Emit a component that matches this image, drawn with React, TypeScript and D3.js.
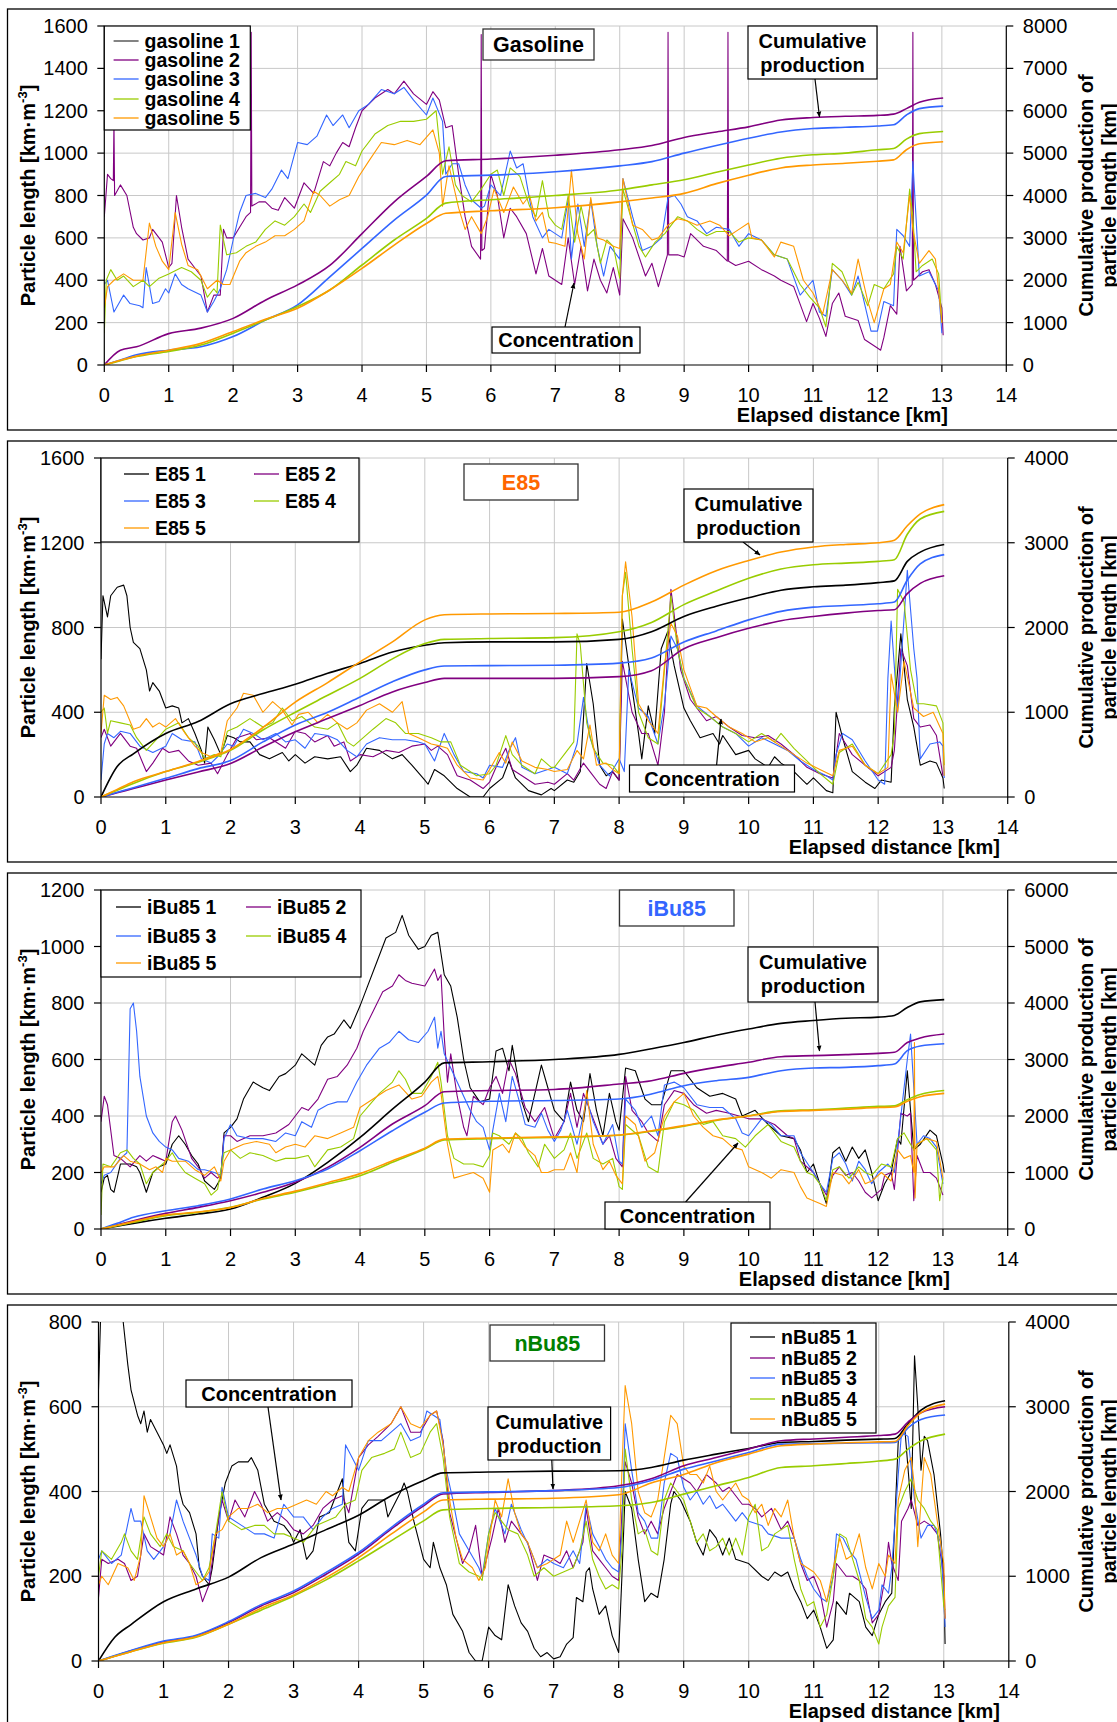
import React from 'react';
import * as d3 from 'd3';

const COLORS = ['#000000', '#800080', '#3366FF', '#99CC00', '#FF9900'];
const FONT = '"Liberation Sans", Arial, sans-serif';

// distance grid for the cumulative curves [km]
const cumDist = [0, 0.25, 0.5, 1, 1.5, 2, 2.5, 3, 3.5, 4, 4.5, 5, 5.3, 6, 7, 8, 8.5, 9, 9.5, 10, 10.5, 11, 11.5, 12, 12.25, 12.45, 12.65, 13.02];

// ---------------- Gasoline ----------------
const gasNames = ['gasoline 1', 'gasoline 2', 'gasoline 3', 'gasoline 4', 'gasoline 5'];
const gasConc2 = [0,700, 0.05,900, 0.1,880, 0.14,870, 0.15,1150, 0.16,800, 0.25,850, 0.35,800, 0.45,650, 0.5,620, 0.6,590, 0.7,600, 0.75,640, 0.9,580, 1.0,460, 1.05,480, 1.12,800, 1.2,650, 1.3,500, 1.4,460, 1.5,420, 1.6,250, 1.7,330, 1.8,330, 1.85,640, 1.9,600, 2.0,600, 2.1,650, 2.2,700, 2.27,720, 2.28,1570, 2.29,750, 2.4,770, 2.5,770, 2.6,740, 2.7,730, 2.8,790, 2.95,740, 3.1,860, 3.25,810, 3.4,960, 3.5,940, 3.6,1000, 3.7,1050, 3.8,1030, 3.9,1120, 4.0,1200, 4.2,1260, 4.4,1300, 4.5,1280, 4.65,1340, 4.8,1280, 5.0,1230, 5.1,1290, 5.2,1250, 5.3,1120, 5.4,1130, 5.5,900, 5.6,700, 5.7,560, 5.84,500, 5.85,1560, 5.86,540, 5.9,550, 6.0,900, 6.1,800, 6.2,600, 6.3,740, 6.4,700, 6.55,620, 6.7,430, 6.8,550, 6.9,420, 7.0,400, 7.1,380, 7.2,600, 7.3,380, 7.4,560, 7.5,350, 7.6,500, 7.7,400, 7.8,340, 7.9,460, 8.0,330, 8.05,690, 8.2,600, 8.4,420, 8.5,480, 8.6,370, 8.74,520, 8.75,1570, 8.76,520, 8.9,520, 9.0,510, 9.1,620, 9.3,560, 9.5,540, 9.67,490, 9.68,1570, 9.69,490, 9.8,470, 10.0,490, 10.2,450, 10.4,420, 10.5,400, 10.7,370, 10.9,205, 11.0,290, 11.1,220, 11.2,135, 11.3,290, 11.4,340, 11.5,230, 11.7,210, 11.8,120, 11.9,100, 12.0,80, 12.05,70, 12.1,130, 12.2,280, 12.3,240, 12.35,560, 12.45,350, 12.54,380, 12.55,1570, 12.56,400, 12.7,440, 12.8,450, 12.9,380, 13.0,270, 13.02,140];
const gasConc3 = [0,380, 0.05,400, 0.15,250, 0.3,330, 0.4,290, 0.55,280, 0.6,270, 0.65,460, 0.75,290, 0.85,300, 0.95,360, 1.0,340, 1.1,430, 1.2,380, 1.3,360, 1.5,330, 1.6,250, 1.7,300, 1.8,360, 1.9,450, 2.0,590, 2.1,720, 2.2,800, 2.35,810, 2.5,790, 2.6,830, 2.75,920, 2.85,880, 3.0,1050, 3.15,1040, 3.3,1080, 3.45,1180, 3.55,1130, 3.7,1180, 3.8,1120, 3.95,1200, 4.1,1230, 4.3,1300, 4.5,1280, 4.65,1310, 4.8,1250, 5.0,1180, 5.1,1260, 5.25,1150, 5.3,900, 5.4,950, 5.5,950, 5.6,850, 5.7,780, 5.85,740, 5.9,750, 6.0,850, 6.15,800, 6.3,1010, 6.4,930, 6.5,950, 6.65,700, 6.8,600, 6.9,640, 7.0,620, 7.1,600, 7.2,780, 7.25,500, 7.35,760, 7.45,560, 7.55,780, 7.65,560, 7.75,420, 7.85,560, 7.95,520, 8.0,500, 8.05,880, 8.2,700, 8.35,540, 8.5,560, 8.65,600, 8.75,790, 8.85,800, 8.95,760, 9.05,700, 9.2,680, 9.35,620, 9.5,650, 9.7,640, 9.85,560, 10.0,620, 10.2,590, 10.4,520, 10.6,500, 10.8,330, 11.0,400, 11.1,250, 11.2,230, 11.3,450, 11.45,400, 11.6,330, 11.7,420, 11.9,160, 12.0,160, 12.1,300, 12.25,280, 12.3,640, 12.4,610, 12.5,560, 12.55,960, 12.65,420, 12.8,440, 12.95,350, 13.0,150];
const gasConc4 = [0,150, 0.03,400, 0.1,450, 0.2,400, 0.3,420, 0.45,370, 0.6,400, 0.7,370, 0.85,410, 1.0,430, 1.2,460, 1.35,440, 1.5,400, 1.6,320, 1.7,360, 1.75,340, 1.8,660, 1.9,520, 2.05,530, 2.2,560, 2.35,580, 2.5,640, 2.65,680, 2.8,660, 2.95,700, 3.1,760, 3.2,720, 3.35,820, 3.5,860, 3.65,900, 3.75,960, 3.9,940, 4.0,1010, 4.2,1090, 4.4,1130, 4.6,1150, 4.8,1150, 5.0,1160, 5.15,1200, 5.25,900, 5.35,1030, 5.45,850, 5.55,800, 5.7,770, 5.85,830, 6.0,900, 6.1,920, 6.2,800, 6.3,930, 6.45,890, 6.6,750, 6.7,700, 6.8,870, 6.9,700, 7.0,660, 7.1,640, 7.2,800, 7.3,580, 7.4,750, 7.5,610, 7.6,640, 7.7,480, 7.8,590, 7.9,560, 8.0,410, 8.05,830, 8.15,720, 8.3,560, 8.4,510, 8.55,580, 8.7,620, 8.9,700, 9.05,680, 9.2,640, 9.35,610, 9.5,630, 9.7,630, 9.85,580, 10.0,600, 10.2,590, 10.4,520, 10.6,500, 10.8,380, 10.95,320, 11.1,270, 11.2,180, 11.3,480, 11.45,440, 11.6,330, 11.7,390, 11.85,280, 11.95,380, 12.1,360, 12.25,430, 12.3,560, 12.4,500, 12.5,830, 12.55,700, 12.6,440, 12.7,470, 12.85,500, 12.95,430, 13.0,200];
const gasConc5 = [0,270, 0.05,370, 0.15,400, 0.3,430, 0.45,400, 0.6,400, 0.7,670, 0.8,560, 0.9,490, 1.0,450, 1.1,720, 1.2,570, 1.3,470, 1.45,450, 1.6,360, 1.75,400, 1.85,380, 1.95,380, 2.1,490, 2.2,530, 2.35,560, 2.5,580, 2.65,610, 2.8,610, 2.95,640, 3.1,680, 3.25,820, 3.35,800, 3.5,750, 3.65,780, 3.8,800, 3.95,890, 4.1,960, 4.3,1050, 4.5,1040, 4.7,1060, 4.9,1040, 5.1,1110, 5.2,1000, 5.25,750, 5.35,940, 5.5,740, 5.6,640, 5.7,700, 5.85,620, 5.95,700, 6.05,830, 6.2,720, 6.35,840, 6.5,760, 6.6,800, 6.7,680, 6.8,720, 6.9,580, 7.0,575, 7.15,560, 7.25,920, 7.35,620, 7.45,500, 7.55,790, 7.65,600, 7.75,590, 7.9,560, 8.0,550, 8.05,880, 8.2,660, 8.35,640, 8.5,590, 8.6,600, 8.75,660, 8.9,690, 9.05,680, 9.2,660, 9.4,680, 9.55,660, 9.7,610, 9.85,640, 10.0,670, 10.05,600, 10.2,590, 10.4,510, 10.5,580, 10.7,560, 10.85,400, 11.0,340, 11.15,240, 11.3,450, 11.45,400, 11.6,340, 11.7,500, 11.85,300, 11.95,200, 12.1,360, 12.2,380, 12.3,580, 12.4,530, 12.5,800, 12.55,640, 12.65,480, 12.8,540, 12.9,500, 13.0,200];
const gasCum2 = [0, 350, 430, 740, 870, 1100, 1530, 1890, 2350, 3100, 3850, 4450, 4820, 4860, 4950, 5080, 5180, 5370, 5500, 5620, 5780, 5840, 5870, 5890, 5920, 6050, 6200, 6300];
const gasCum3 = [0, 120, 240, 350, 430, 670, 1060, 1420, 2080, 2750, 3420, 4010, 4450, 4480, 4560, 4700, 4800, 5000, 5180, 5350, 5500, 5580, 5610, 5640, 5670, 5900, 6050, 6110];
const gasCum4 = [0, 100, 200, 320, 470, 750, 1060, 1380, 1770, 2360, 2950, 3460, 3820, 3900, 4000, 4130, 4250, 4370, 4550, 4720, 4880, 4960, 5000, 5080, 5110, 5330, 5460, 5510];
const gasCum5 = [0, 110, 210, 350, 510, 790, 1080, 1340, 1770, 2280, 2830, 3340, 3580, 3640, 3710, 3850, 3940, 4050, 4280, 4480, 4650, 4720, 4760, 4810, 4840, 5080, 5220, 5270];

// ---------------- E85 ----------------
const e85Names = ['E85 1', 'E85 2', 'E85 3', 'E85 4', 'E85 5'];
const e85Conc1 = [0,650, 0.03,950, 0.1,850, 0.15,950, 0.25,990, 0.35,1000, 0.4,950, 0.45,800, 0.5,730, 0.6,700, 0.7,600, 0.75,500, 0.8,540, 0.9,500, 1.0,420, 1.1,430, 1.2,420, 1.25,350, 1.35,370, 1.45,300, 1.55,220, 1.6,160, 1.65,330, 1.75,270, 1.85,200, 1.95,290, 2.05,280, 2.15,260, 2.3,260, 2.45,200, 2.6,180, 2.8,210, 2.9,170, 3.0,200, 3.15,160, 3.3,190, 3.5,180, 3.7,190, 3.85,120, 3.95,150, 4.1,230, 4.3,220, 4.5,180, 4.65,200, 4.8,150, 5.0,80, 5.05,60, 5.15,130, 5.3,100, 5.5,40, 5.7,0, 5.9,0, 6.0,40, 6.2,90, 6.3,170, 6.4,90, 6.6,30, 6.8,10, 6.95,40, 7.0,30, 7.2,80, 7.3,70, 7.4,120, 7.5,630, 7.6,440, 7.7,150, 7.8,100, 7.9,120, 8.0,80, 8.05,840, 8.15,620, 8.3,300, 8.35,180, 8.45,430, 8.55,300, 8.65,700, 8.75,780, 8.85,620, 9.0,420, 9.1,360, 9.25,280, 9.45,300, 9.55,250, 9.6,290, 9.8,200, 10.0,220, 10.1,180, 10.3,140, 10.4,190, 10.5,160, 10.7,120, 10.9,60, 11.0,90, 11.2,30, 11.3,20, 11.35,400, 11.45,280, 11.6,120, 11.8,70, 11.95,40, 12.05,80, 12.2,70, 12.25,420, 12.35,770, 12.45,460, 12.55,330, 12.65,150, 12.8,170, 12.9,160, 13.0,90, 13.02,40];
const e85Conc2 = [0,280, 0.05,320, 0.15,240, 0.3,300, 0.45,240, 0.55,230, 0.7,120, 0.8,160, 0.95,230, 1.05,210, 1.2,220, 1.35,170, 1.5,150, 1.7,160, 1.8,110, 1.95,200, 2.1,280, 2.3,300, 2.4,270, 2.6,280, 2.85,230, 3.0,310, 3.15,300, 3.3,260, 3.5,290, 3.6,240, 3.75,260, 3.85,170, 4.0,200, 4.2,190, 4.4,220, 4.6,210, 4.8,240, 5.0,250, 5.1,220, 5.2,240, 5.35,200, 5.5,100, 5.7,80, 5.9,40, 6.0,70, 6.1,140, 6.25,230, 6.35,130, 6.5,100, 6.7,60, 6.9,70, 7.0,60, 7.2,110, 7.3,80, 7.45,160, 7.55,120, 7.7,60, 7.8,40, 7.9,120, 8.0,80, 8.05,640, 8.2,400, 8.35,300, 8.45,300, 8.6,150, 8.7,400, 8.8,980, 8.85,860, 8.95,600, 9.1,460, 9.2,420, 9.35,360, 9.5,380, 9.7,330, 9.9,290, 10.1,280, 10.3,290, 10.5,250, 10.7,200, 10.9,140, 11.1,110, 11.3,90, 11.4,300, 11.6,200, 11.8,150, 12.0,100, 12.2,140, 12.25,220, 12.35,700, 12.45,620, 12.55,370, 12.65,330, 12.8,340, 12.9,290, 13.0,100];
const e85Conc3 = [0,80, 0.05,250, 0.1,300, 0.2,280, 0.3,310, 0.45,300, 0.6,240, 0.8,210, 1.0,240, 1.1,300, 1.25,270, 1.45,260, 1.55,180, 1.7,160, 1.8,190, 1.95,250, 2.05,240, 2.2,320, 2.35,300, 2.5,270, 2.7,300, 2.85,260, 3.0,270, 3.15,230, 3.3,300, 3.5,290, 3.65,270, 3.8,220, 3.95,190, 4.1,250, 4.3,280, 4.5,270, 4.7,270, 4.9,260, 5.0,250, 5.15,170, 5.3,300, 5.45,200, 5.6,120, 5.8,110, 5.9,90, 6.0,150, 6.2,140, 6.3,220, 6.4,280, 6.5,140, 6.7,110, 6.9,130, 7.0,140, 7.2,110, 7.35,250, 7.45,470, 7.55,280, 7.7,150, 7.85,100, 8.0,180, 8.08,120, 8.15,600, 8.3,420, 8.45,380, 8.6,250, 8.7,440, 8.8,760, 8.9,700, 9.0,560, 9.2,430, 9.4,380, 9.6,330, 9.8,300, 10.0,240, 10.2,280, 10.4,250, 10.6,220, 10.8,170, 11.0,130, 11.2,100, 11.3,80, 11.35,200, 11.45,300, 11.6,270, 11.8,170, 12.0,80, 12.1,60, 12.15,560, 12.2,830, 12.3,400, 12.45,1070, 12.55,700, 12.6,560, 12.65,180, 12.8,250, 12.95,260, 13.0,240, 13.02,90];
const e85Conc4 = [0,400, 0.05,420, 0.1,300, 0.15,360, 0.3,350, 0.45,340, 0.55,280, 0.7,220, 0.85,270, 1.0,320, 1.2,350, 1.35,280, 1.5,240, 1.6,180, 1.75,200, 1.85,190, 1.95,310, 2.1,330, 2.3,370, 2.5,330, 2.65,350, 2.8,420, 2.95,360, 3.1,380, 3.3,330, 3.5,320, 3.65,350, 3.8,260, 3.9,240, 4.05,280, 4.2,320, 4.4,370, 4.55,350, 4.7,300, 4.9,300, 5.1,280, 5.25,260, 5.4,260, 5.55,150, 5.8,100, 6.0,110, 6.1,150, 6.25,290, 6.35,200, 6.5,150, 6.7,110, 6.8,180, 6.95,140, 7.0,140, 7.15,200, 7.3,260, 7.35,770, 7.4,720, 7.5,350, 7.6,230, 7.75,160, 7.9,150, 8.0,110, 8.05,950, 8.1,1060, 8.2,700, 8.3,400, 8.45,280, 8.6,250, 8.7,600, 8.8,950, 8.9,700, 9.0,560, 9.2,420, 9.4,380, 9.6,330, 9.8,300, 10.0,260, 10.2,300, 10.4,260, 10.5,300, 10.7,230, 10.9,170, 11.1,110, 11.3,60, 11.4,210, 11.6,250, 11.8,150, 12.0,110, 12.2,200, 12.25,300, 12.3,980, 12.4,920, 12.5,600, 12.6,440, 12.7,440, 12.9,430, 13.0,350, 13.02,150];
const e85Conc5 = [0,300, 0.05,480, 0.15,460, 0.25,470, 0.35,430, 0.5,320, 0.6,330, 0.7,370, 0.8,330, 0.9,350, 1.0,330, 1.15,370, 1.3,300, 1.45,240, 1.55,210, 1.7,190, 1.85,210, 1.95,360, 2.1,420, 2.2,490, 2.35,480, 2.5,400, 2.65,450, 2.8,410, 2.95,340, 3.05,390, 3.2,400, 3.35,350, 3.5,390, 3.65,350, 3.8,320, 3.95,350, 4.1,410, 4.3,440, 4.5,400, 4.65,450, 4.75,300, 4.9,280, 5.1,250, 5.25,240, 5.35,230, 5.5,150, 5.7,90, 5.9,80, 6.0,130, 6.15,210, 6.25,160, 6.35,260, 6.5,170, 6.7,140, 6.9,130, 7.0,120, 7.2,130, 7.35,220, 7.45,180, 7.55,340, 7.65,150, 7.8,160, 7.9,130, 8.0,110, 8.05,950, 8.1,1110, 8.2,850, 8.3,440, 8.45,360, 8.6,300, 8.7,620, 8.8,820, 8.9,760, 9.0,600, 9.2,430, 9.35,420, 9.5,380, 9.7,330, 9.9,300, 10.1,260, 10.3,280, 10.5,240, 10.7,200, 10.9,160, 11.1,130, 11.3,100, 11.4,220, 11.6,240, 11.8,150, 12.0,110, 12.15,140, 12.2,580, 12.3,400, 12.4,640, 12.55,420, 12.7,380, 12.85,400, 13.0,300, 13.02,100];
const e85Cum1 = [0, 360, 510, 750, 890, 1100, 1220, 1330, 1460, 1575, 1710, 1790, 1820, 1830, 1830, 1860, 1950, 2130, 2250, 2350, 2440, 2480, 2500, 2530, 2550, 2780, 2890, 2980];
const e85Cum2 = [0, 50, 100, 200, 295, 395, 590, 770, 925, 1080, 1240, 1350, 1400, 1400, 1400, 1420, 1490, 1750, 1880, 1990, 2080, 2130, 2170, 2200, 2210, 2400, 2520, 2610];
const e85Cum3 = [0, 55, 110, 220, 335, 430, 650, 850, 1000, 1180, 1360, 1500, 1545, 1550, 1555, 1580, 1640, 1830, 1960, 2090, 2190, 2240, 2260, 2280, 2300, 2560, 2750, 2860];
const e85Cum4 = [0, 80, 160, 300, 410, 550, 790, 1000, 1200, 1400, 1630, 1810, 1860, 1870, 1880, 1950, 2060, 2270, 2430, 2580, 2690, 2740, 2760, 2780, 2800, 3100, 3280, 3370];
const e85Cum5 = [0, 90, 180, 300, 420, 560, 820, 1120, 1350, 1595, 1830, 2090, 2150, 2160, 2165, 2180, 2300, 2500, 2670, 2790, 2890, 2950, 2980, 3000, 3030, 3200, 3340, 3450];

// ---------------- iBu85 ----------------
const ibuNames = ['iBu85 1', 'iBu85 2', 'iBu85 3', 'iBu85 4', 'iBu85 5'];
const ibuConc1 = [0,130, 0.05,180, 0.1,190, 0.15,140, 0.2,130, 0.3,230, 0.45,230, 0.55,220, 0.6,200, 0.7,130, 0.8,200, 0.9,220, 1.0,230, 1.1,300, 1.2,330, 1.3,300, 1.4,260, 1.5,230, 1.6,170, 1.7,150, 1.75,140, 1.85,180, 1.9,340, 2.0,360, 2.1,390, 2.2,460, 2.35,520, 2.5,500, 2.6,490, 2.75,540, 2.85,550, 3.0,580, 3.1,620, 3.3,580, 3.4,650, 3.5,680, 3.6,690, 3.75,740, 3.85,710, 4.0,790, 4.1,850, 4.25,940, 4.4,1030, 4.55,1050, 4.65,1110, 4.75,1040, 4.9,990, 5.0,1000, 5.1,1040, 5.2,1050, 5.3,900, 5.4,860, 5.5,750, 5.6,600, 5.7,500, 5.85,450, 6.0,460, 6.1,630, 6.2,640, 6.3,560, 6.35,650, 6.5,450, 6.6,380, 6.8,580, 6.9,500, 7.0,420, 7.15,380, 7.25,520, 7.35,420, 7.45,380, 7.55,550, 7.65,420, 7.75,330, 7.85,480, 7.95,380, 8.0,350, 8.1,570, 8.25,560, 8.4,460, 8.5,440, 8.65,440, 8.8,560, 9.0,560, 9.2,500, 9.4,470, 9.6,480, 9.8,460, 9.9,400, 10.1,420, 10.3,370, 10.5,330, 10.7,320, 10.8,280, 10.9,200, 11.0,230, 11.1,160, 11.2,90, 11.3,270, 11.4,290, 11.5,240, 11.6,290, 11.7,250, 11.8,280, 11.9,200, 12.0,100, 12.1,160, 12.2,200, 12.3,320, 12.35,300, 12.45,560, 12.55,280, 12.65,300, 12.8,350, 12.9,330, 13.0,230, 13.02,200];
const ibuConc2 = [0,380, 0.05,470, 0.1,440, 0.2,260, 0.3,250, 0.45,220, 0.6,260, 0.7,240, 0.8,260, 0.9,250, 1.0,240, 1.1,380, 1.15,400, 1.25,350, 1.4,250, 1.5,220, 1.6,180, 1.7,200, 1.8,180, 1.85,190, 1.9,330, 2.0,330, 2.1,310, 2.3,330, 2.5,330, 2.7,340, 2.9,370, 3.1,430, 3.2,420, 3.35,460, 3.5,530, 3.65,540, 3.8,580, 3.95,640, 4.05,700, 4.2,770, 4.35,840, 4.5,860, 4.6,900, 4.7,880, 4.8,870, 5.0,860, 5.15,920, 5.2,880, 5.25,900, 5.3,680, 5.35,520, 5.4,620, 5.5,470, 5.6,360, 5.65,330, 5.75,470, 5.9,440, 6.0,500, 6.1,540, 6.2,480, 6.3,600, 6.4,550, 6.55,430, 6.7,380, 6.85,430, 7.0,320, 7.15,380, 7.25,480, 7.35,360, 7.45,480, 7.55,420, 7.65,360, 7.75,300, 7.85,330, 7.95,250, 8.05,220, 8.1,540, 8.2,420, 8.35,380, 8.45,340, 8.6,310, 8.7,440, 8.85,490, 9.0,480, 9.15,440, 9.35,410, 9.5,420, 9.7,410, 9.85,400, 10.0,390, 10.2,390, 10.4,370, 10.6,330, 10.7,320, 10.8,240, 11.0,200, 11.1,160, 11.2,120, 11.3,190, 11.4,220, 11.5,190, 11.6,200, 11.7,170, 11.8,130, 11.9,110, 12.05,140, 12.1,190, 12.2,200, 12.25,140, 12.35,410, 12.45,400, 12.5,410, 12.55,100, 12.6,260, 12.7,200, 12.8,200, 12.9,180, 13.0,120];
const ibuConc3 = [0,160, 0.05,190, 0.15,200, 0.3,250, 0.4,270, 0.45,780, 0.5,800, 0.55,700, 0.6,540, 0.7,400, 0.8,340, 0.9,310, 1.0,290, 1.1,280, 1.2,250, 1.35,240, 1.5,210, 1.6,210, 1.75,200, 1.85,190, 1.9,320, 2.0,370, 2.1,330, 2.3,320, 2.5,320, 2.7,310, 2.85,340, 3.0,330, 3.1,380, 3.25,360, 3.35,420, 3.5,440, 3.65,450, 3.8,450, 3.95,520, 4.1,580, 4.3,640, 4.45,660, 4.6,700, 4.75,670, 4.9,660, 5.05,700, 5.15,750, 5.2,640, 5.25,700, 5.3,620, 5.4,570, 5.5,520, 5.6,470, 5.7,420, 5.8,380, 5.9,360, 6.0,280, 6.05,350, 6.15,480, 6.25,380, 6.35,540, 6.45,460, 6.55,370, 6.7,360, 6.8,410, 6.9,350, 7.0,310, 7.1,350, 7.2,420, 7.35,300, 7.5,460, 7.6,380, 7.75,300, 7.9,370, 8.0,240, 8.05,230, 8.1,460, 8.25,420, 8.35,360, 8.5,400, 8.6,330, 8.7,510, 8.85,520, 9.0,500, 9.2,440, 9.4,430, 9.6,430, 9.8,390, 9.9,340, 10.0,330, 10.2,390, 10.35,370, 10.5,330, 10.7,330, 10.8,270, 11.0,200, 11.1,160, 11.2,130, 11.3,250, 11.4,270, 11.5,230, 11.6,170, 11.7,240, 11.8,210, 11.9,160, 12.0,200, 12.15,230, 12.25,200, 12.35,400, 12.45,600, 12.5,690, 12.55,500, 12.6,300, 12.7,330, 12.8,320, 12.9,290, 13.0,160];
const ibuConc4 = [0,50, 0.03,230, 0.15,220, 0.3,270, 0.4,280, 0.5,250, 0.6,230, 0.7,160, 0.8,200, 0.9,220, 1.0,240, 1.1,270, 1.2,230, 1.3,200, 1.45,180, 1.6,160, 1.7,120, 1.8,140, 1.9,270, 2.0,280, 2.15,250, 2.3,270, 2.5,260, 2.7,240, 2.85,250, 3.0,250, 3.2,260, 3.3,220, 3.5,280, 3.7,290, 3.9,320, 4.0,400, 4.15,440, 4.3,480, 4.5,520, 4.6,560, 4.7,530, 4.8,480, 4.95,480, 5.1,540, 5.2,590, 5.25,520, 5.35,330, 5.45,250, 5.6,230, 5.75,230, 5.9,220, 6.0,260, 6.05,340, 6.15,330, 6.3,300, 6.4,340, 6.5,320, 6.6,270, 6.75,220, 6.85,300, 7.0,250, 7.15,280, 7.25,340, 7.35,250, 7.5,340, 7.6,250, 7.75,230, 7.9,250, 8.0,150, 8.05,140, 8.1,370, 8.3,330, 8.45,220, 8.6,200, 8.7,380, 8.85,450, 9.0,440, 9.15,420, 9.3,370, 9.45,380, 9.6,330, 9.8,320, 9.95,290, 10.1,330, 10.3,370, 10.5,310, 10.7,290, 10.8,240, 10.9,200, 11.0,190, 11.1,160, 11.2,100, 11.3,210, 11.4,220, 11.55,180, 11.7,220, 11.8,200, 11.9,190, 12.05,230, 12.2,220, 12.3,320, 12.4,340, 12.5,300, 12.55,280, 12.6,300, 12.75,320, 12.9,280, 12.95,100, 13.0,180];
const ibuConc5 = [0,200, 0.05,220, 0.2,220, 0.35,260, 0.45,240, 0.6,230, 0.75,210, 0.85,220, 0.95,200, 1.0,250, 1.1,240, 1.3,240, 1.45,210, 1.6,190, 1.75,220, 1.85,170, 1.9,240, 2.0,280, 2.2,300, 2.4,310, 2.6,300, 2.7,270, 2.85,290, 3.0,300, 3.15,290, 3.3,330, 3.5,320, 3.7,340, 3.9,360, 4.0,430, 4.2,460, 4.4,490, 4.6,510, 4.8,460, 4.95,470, 5.1,520, 5.2,540, 5.25,480, 5.35,300, 5.45,180, 5.6,190, 5.75,200, 5.9,180, 6.0,130, 6.05,280, 6.2,300, 6.3,270, 6.4,340, 6.55,290, 6.7,260, 6.8,200, 6.9,200, 7.0,210, 7.15,210, 7.25,270, 7.35,200, 7.5,490, 7.6,300, 7.75,210, 7.85,240, 7.95,190, 8.05,160, 8.1,400, 8.25,370, 8.4,240, 8.55,270, 8.7,400, 8.85,450, 9.0,480, 9.15,400, 9.3,360, 9.45,330, 9.6,320, 9.75,290, 9.9,280, 10.0,220, 10.2,200, 10.35,180, 10.5,210, 10.7,200, 10.8,150, 10.9,110, 11.0,100, 11.1,90, 11.2,80, 11.3,200, 11.45,190, 11.55,160, 11.7,210, 11.8,160, 11.9,170, 12.05,200, 12.2,170, 12.3,280, 12.4,250, 12.5,260, 12.55,200, 12.56,660, 12.57,110, 12.6,300, 12.75,320, 12.9,310, 13.0,180];
const ibuCum1 = [0, 50, 100, 190, 265, 354, 560, 808, 1180, 1620, 2120, 2600, 2940, 2960, 3000, 3090, 3190, 3300, 3430, 3540, 3640, 3690, 3730, 3750, 3780, 3920, 4020, 4060];
const ibuCum2 = [0, 75, 147, 277, 383, 501, 649, 826, 1091, 1445, 1858, 2183, 2430, 2450, 2470, 2566, 2625, 2755, 2861, 2950, 3050, 3068, 3086, 3109, 3127, 3300, 3380, 3450];
const ibuCum3 = [0, 100, 206, 324, 413, 531, 708, 855, 1062, 1386, 1740, 2065, 2230, 2260, 2275, 2301, 2389, 2537, 2625, 2684, 2802, 2850, 2861, 2891, 2920, 3156, 3240, 3280];
const ibuCum4 = [0, 60, 118, 236, 295, 383, 531, 649, 796, 944, 1180, 1416, 1575, 1600, 1620, 1660, 1730, 1820, 1920, 2005, 2090, 2110, 2140, 2170, 2180, 2290, 2380, 2450];
const ibuCum5 = [0, 65, 130, 250, 300, 380, 540, 670, 820, 980, 1210, 1430, 1590, 1610, 1630, 1665, 1740, 1830, 1930, 2000, 2080, 2100, 2120, 2150, 2160, 2260, 2340, 2400];

// ---------------- nBu85 ----------------
const nbuNames = ['nBu85 1', 'nBu85 2', 'nBu85 3', 'nBu85 4', 'nBu85 5'];
const nbuConc1 = [0,640, 0.03,800, 0.08,900, 0.3,850, 0.38,800, 0.45,700, 0.5,640, 0.6,580, 0.65,560, 0.7,590, 0.75,540, 0.8,570, 0.9,540, 1.0,510, 1.05,490, 1.1,510, 1.2,460, 1.25,400, 1.3,370, 1.4,350, 1.5,300, 1.55,220, 1.6,200, 1.7,180, 1.75,220, 1.85,340, 1.95,420, 2.05,460, 2.15,470, 2.3,470, 2.35,480, 2.45,450, 2.55,370, 2.7,330, 2.85,320, 2.95,300, 3.0,280, 3.1,310, 3.2,240, 3.3,260, 3.4,340, 3.55,350, 3.65,390, 3.75,430, 3.8,340, 3.85,280, 3.95,260, 4.05,360, 4.15,380, 4.3,380, 4.4,380, 4.45,340, 4.55,370, 4.65,400, 4.7,420, 4.75,400, 4.85,330, 4.95,270, 5.0,240, 5.1,220, 5.15,280, 5.25,220, 5.35,180, 5.45,110, 5.6,70, 5.7,20, 5.8,0, 5.9,0, 5.95,40, 6.0,80, 6.1,60, 6.2,50, 6.3,180, 6.4,130, 6.5,90, 6.6,70, 6.7,30, 6.8,10, 6.9,20, 7.0,5, 7.1,10, 7.2,40, 7.3,55, 7.35,150, 7.45,140, 7.5,210, 7.55,220, 7.6,170, 7.7,110, 7.8,130, 7.9,60, 8.0,20, 8.05,200, 8.1,400, 8.2,360, 8.3,240, 8.4,140, 8.5,160, 8.6,150, 8.7,240, 8.8,370, 8.85,400, 8.95,380, 9.1,330, 9.2,280, 9.3,250, 9.4,310, 9.5,290, 9.6,250, 9.7,290, 9.8,240, 10.0,230, 10.2,200, 10.3,190, 10.4,210, 10.5,200, 10.6,210, 10.7,170, 10.8,140, 10.9,100, 11.0,120, 11.1,80, 11.2,30, 11.3,50, 11.35,140, 11.5,110, 11.55,160, 11.7,140, 11.8,80, 11.9,60, 12.0,110, 12.1,140, 12.2,160, 12.3,520, 12.4,550, 12.5,360, 12.55,720, 12.6,600, 12.65,450, 12.7,530, 12.75,520, 12.85,440, 12.95,300, 13.0,200, 13.02,40];
const nbuConc2 = [0,150, 0.05,240, 0.15,230, 0.3,240, 0.4,230, 0.5,190, 0.6,200, 0.7,300, 0.8,270, 0.9,260, 1.0,250, 1.1,340, 1.2,300, 1.3,250, 1.4,230, 1.5,200, 1.6,140, 1.7,180, 1.8,290, 1.9,380, 2.0,330, 2.1,380, 2.25,340, 2.4,400, 2.5,370, 2.6,330, 2.75,350, 2.9,330, 3.0,310, 3.15,300, 3.3,320, 3.45,360, 3.6,380, 3.75,390, 3.85,350, 4.0,480, 4.15,510, 4.3,530, 4.5,560, 4.65,600, 4.8,540, 4.95,540, 5.1,580, 5.2,590, 5.3,520, 5.4,350, 5.5,290, 5.6,230, 5.7,260, 5.8,320, 5.9,200, 6.05,290, 6.15,360, 6.25,280, 6.35,330, 6.5,300, 6.6,280, 6.75,190, 6.85,250, 7.0,240, 7.1,230, 7.2,260, 7.3,220, 7.45,280, 7.5,360, 7.6,260, 7.7,240, 7.8,220, 7.9,200, 8.0,190, 8.05,350, 8.1,470, 8.2,420, 8.3,340, 8.4,300, 8.5,330, 8.6,300, 8.7,360, 8.8,400, 8.9,440, 9.0,430, 9.1,420, 9.2,400, 9.35,440, 9.5,420, 9.6,400, 9.7,410, 9.8,390, 9.9,370, 10.0,370, 10.1,360, 10.2,340, 10.35,360, 10.5,310, 10.6,330, 10.7,290, 10.8,230, 10.9,190, 11.0,200, 11.1,160, 11.2,80, 11.3,140, 11.35,230, 11.5,200, 11.6,200, 11.7,190, 11.8,170, 11.9,90, 12.0,110, 12.1,200, 12.15,280, 12.2,230, 12.3,190, 12.35,330, 12.45,360, 12.5,380, 12.6,320, 12.7,330, 12.8,320, 12.9,300, 13.0,200, 13.02,100];
const nbuConc3 = [0,240, 0.05,260, 0.2,230, 0.35,250, 0.5,360, 0.55,330, 0.65,330, 0.75,260, 0.85,240, 1.0,270, 1.1,300, 1.2,380, 1.3,330, 1.4,290, 1.5,250, 1.6,200, 1.7,190, 1.75,300, 1.85,290, 1.9,410, 2.0,340, 2.2,320, 2.4,300, 2.55,300, 2.7,290, 2.85,370, 3.0,340, 3.15,340, 3.3,310, 3.45,340, 3.6,360, 3.75,370, 3.8,510, 3.9,480, 4.0,450, 4.15,520, 4.35,520, 4.5,540, 4.65,560, 4.8,520, 4.95,530, 5.05,590, 5.15,580, 5.25,570, 5.35,450, 5.45,380, 5.55,300, 5.7,260, 5.85,220, 5.9,200, 6.0,300, 6.1,360, 6.25,300, 6.35,370, 6.5,310, 6.65,260, 6.75,220, 6.9,240, 7.0,230, 7.15,220, 7.3,260, 7.4,230, 7.5,370, 7.6,300, 7.7,270, 7.8,240, 7.9,220, 8.0,210, 8.05,300, 8.1,560, 8.2,450, 8.3,350, 8.4,330, 8.5,290, 8.6,290, 8.7,420, 8.8,490, 8.9,480, 9.0,410, 9.1,380, 9.2,400, 9.3,370, 9.4,390, 9.5,360, 9.6,370, 9.7,350, 9.8,330, 9.9,350, 10.0,330, 10.2,320, 10.3,300, 10.5,290, 10.7,290, 10.8,240, 10.9,200, 11.0,170, 11.1,150, 11.2,140, 11.3,200, 11.35,300, 11.45,290, 11.55,260, 11.65,240, 11.8,150, 11.9,100, 12.0,120, 12.05,180, 12.15,160, 12.2,220, 12.3,440, 12.35,540, 12.45,530, 12.55,380, 12.65,290, 12.75,320, 12.85,320, 12.95,280, 13.0,150, 13.02,80];
const nbuConc4 = [0,200, 0.05,260, 0.2,240, 0.35,280, 0.4,300, 0.5,260, 0.6,240, 0.7,340, 0.8,300, 0.95,270, 1.05,300, 1.15,270, 1.3,260, 1.4,230, 1.5,210, 1.6,190, 1.7,220, 1.8,300, 1.9,400, 2.0,330, 2.2,310, 2.4,320, 2.55,320, 2.7,300, 2.85,300, 3.0,290, 3.15,280, 3.35,320, 3.5,330, 3.65,340, 3.8,370, 3.95,380, 4.05,450, 4.2,480, 4.4,490, 4.55,500, 4.65,540, 4.8,480, 4.95,490, 5.1,540, 5.2,560, 5.3,480, 5.4,340, 5.55,230, 5.7,210, 5.85,200, 5.9,190, 6.0,300, 6.1,350, 6.3,310, 6.45,300, 6.6,250, 6.7,200, 6.85,220, 7.0,200, 7.15,210, 7.3,220, 7.4,260, 7.5,330, 7.6,240, 7.7,200, 7.8,170, 7.9,180, 8.0,170, 8.05,260, 8.1,500, 8.2,380, 8.3,300, 8.4,310, 8.5,260, 8.6,250, 8.7,380, 8.8,420, 8.9,400, 9.0,380, 9.1,330, 9.2,280, 9.3,300, 9.4,260, 9.5,270, 9.6,290, 9.7,250, 9.8,290, 9.9,250, 10.0,340, 10.1,370, 10.2,260, 10.3,270, 10.4,300, 10.5,310, 10.6,320, 10.7,240, 10.8,170, 10.9,130, 11.0,140, 11.1,80, 11.2,110, 11.3,200, 11.4,300, 11.5,290, 11.6,240, 11.7,190, 11.8,100, 11.9,80, 12.0,40, 12.05,80, 12.15,130, 12.25,150, 12.3,360, 12.4,400, 12.5,430, 12.6,380, 12.7,360, 12.8,330, 12.9,310, 13.0,130, 13.02,120];
const nbuConc5 = [0,180, 0.05,200, 0.15,180, 0.3,230, 0.45,220, 0.55,190, 0.65,250, 0.7,390, 0.8,340, 0.9,290, 1.0,270, 1.1,300, 1.2,250, 1.3,260, 1.4,230, 1.5,180, 1.6,190, 1.7,210, 1.8,300, 1.9,310, 2.0,340, 2.15,360, 2.3,360, 2.45,370, 2.6,350, 2.75,360, 2.9,360, 3.05,370, 3.2,380, 3.35,370, 3.5,400, 3.6,390, 3.75,410, 3.85,400, 4.0,480, 4.15,520, 4.3,540, 4.5,560, 4.65,600, 4.8,560, 4.95,550, 5.1,580, 5.2,590, 5.3,510, 5.4,380, 5.5,290, 5.6,240, 5.75,220, 5.85,190, 5.95,220, 6.1,380, 6.2,340, 6.3,430, 6.4,350, 6.5,300, 6.6,280, 6.75,220, 6.9,230, 7.0,240, 7.1,250, 7.2,330, 7.3,280, 7.4,330, 7.5,380, 7.6,280, 7.7,260, 7.8,300, 7.9,250, 8.0,230, 8.05,450, 8.1,650, 8.2,560, 8.3,400, 8.4,350, 8.5,340, 8.6,380, 8.7,480, 8.8,580, 8.9,560, 9.0,460, 9.1,440, 9.2,440, 9.3,420, 9.4,460, 9.5,400, 9.6,380, 9.7,400, 9.8,420, 9.9,390, 10.0,380, 10.1,350, 10.2,370, 10.3,320, 10.4,360, 10.5,340, 10.6,380, 10.7,290, 10.8,230, 10.9,220, 11.0,210, 11.1,190, 11.2,140, 11.3,220, 11.4,290, 11.5,240, 11.6,250, 11.7,300, 11.8,220, 11.9,170, 12.0,230, 12.1,200, 12.15,250, 12.25,230, 12.3,380, 12.4,450, 12.5,480, 12.55,410, 12.6,270, 12.7,480, 12.8,440, 12.9,330, 13.0,230, 13.02,100];
const nbuCum1 = [0, 280, 430, 700, 850, 990, 1220, 1380, 1550, 1720, 1950, 2130, 2220, 2230, 2240, 2244, 2283, 2370, 2441, 2508, 2579, 2590, 2606, 2618, 2626, 2800, 2960, 3070];
const nbuCum2 = [0, 60, 120, 224, 295, 453, 650, 807, 1024, 1260, 1555, 1830, 1970, 1990, 2010, 2067, 2150, 2303, 2400, 2500, 2598, 2620, 2640, 2660, 2677, 2820, 2930, 3000];
const nbuCum3 = [0, 65, 125, 235, 305, 465, 665, 825, 1045, 1280, 1575, 1850, 1985, 1995, 2010, 2047, 2130, 2264, 2360, 2461, 2559, 2565, 2570, 2575, 2579, 2750, 2850, 2902];
const nbuCum4 = [0, 55, 110, 210, 280, 433, 600, 768, 957, 1181, 1417, 1654, 1783, 1800, 1811, 1831, 1870, 1969, 2067, 2165, 2283, 2303, 2330, 2360, 2382, 2500, 2598, 2677];
const nbuCum5 = [0, 55, 110, 216, 287, 433, 622, 780, 984, 1220, 1496, 1760, 1900, 1910, 1920, 1961, 2100, 2200, 2340, 2441, 2539, 2560, 2575, 2585, 2590, 2780, 2930, 3031];

const toPts = (a: number[]): [number, number][] => {
  const r: [number, number][] = [];
  for (let i = 0; i < a.length; i += 2) r.push([a[i], a[i + 1]]);
  return r;
};

const panels = [
  {
    key: 'gas', names: gasNames, title: 'Gasoline', titleColor: '#000000',
    conc: [null, gasConc2, gasConc3, gasConc4, gasConc5],
    cum: [null, gasCum2, gasCum3, gasCum4, gasCum5],
    leftMax: 1600, leftStep: 200, rightMax: 8000, rightStep: 1000,
    L: {
      fy: 9, fb: 430, x0: 104.3, x1: 1006.3, yT: 26, yB: 365,
      legend: { x: 104.3, y: 26, w: 146, h: 104, pos: [[113.6, 41], [113.6, 60], [113.6, 79], [113.6, 99], [113.6, 118]] },
      titleBox: { x: 483, y: 29, w: 111, h: 31 },
      cumBox: { x: 748, y: 26, w: 129, h: 53, arrow: [815, 79, 819.5, 117] },
      concBox: { x: 492, y: 327, w: 148, h: 26, arrow: [565, 327, 574, 283] },
      xTitleEnd: 948,
    },
  },
  {
    key: 'e85', names: e85Names, title: 'E85', titleColor: '#FF6600',
    conc: [e85Conc1, e85Conc2, e85Conc3, e85Conc4, e85Conc5],
    cum: [e85Cum1, e85Cum2, e85Cum3, e85Cum4, e85Cum5],
    leftMax: 1600, leftStep: 400, rightMax: 4000, rightStep: 1000,
    L: {
      fy: 441, fb: 862, x0: 101, x1: 1007.7, yT: 458, yB: 797,
      legend: { x: 101, y: 458, w: 258, h: 84, pos: [[124, 474], [254, 474], [124, 501], [254, 501], [124, 528]] },
      titleBox: { x: 464, y: 464, w: 114, h: 36 },
      cumBox: { x: 684, y: 489, w: 129, h: 53, arrow: [743, 542, 760, 555] },
      concBox: { x: 629.5, y: 765, w: 165, h: 27, arrow: [716.6, 765, 721, 719] },
      xTitleEnd: 1000,
    },
  },
  {
    key: 'ibu', names: ibuNames, title: 'iBu85', titleColor: '#3366FF',
    conc: [ibuConc1, ibuConc2, ibuConc3, ibuConc4, ibuConc5],
    cum: [ibuCum1, ibuCum2, ibuCum3, ibuCum4, ibuCum5],
    leftMax: 1200, leftStep: 200, rightMax: 6000, rightStep: 1000,
    L: {
      fy: 873, fb: 1294, x0: 101, x1: 1007.7, yT: 890, yB: 1229,
      legend: { x: 101, y: 890, w: 260, h: 87, pos: [[116, 907], [246, 907], [116, 936], [246, 936], [116, 963]] },
      titleBox: { x: 619.5, y: 890, w: 114.5, h: 36 },
      cumBox: { x: 748, y: 947, w: 130, h: 55, arrow: [815, 1002, 819.5, 1051] },
      concBox: { x: 605, y: 1202, w: 165, h: 27, arrow: [685.6, 1202, 738, 1143] },
      xTitleEnd: 950,
    },
  },
  {
    key: 'nbu', names: nbuNames, title: 'nBu85', titleColor: '#008000',
    conc: [nbuConc1, nbuConc2, nbuConc3, nbuConc4, nbuConc5],
    cum: [nbuCum1, nbuCum2, nbuCum3, nbuCum4, nbuCum5],
    leftMax: 800, leftStep: 200, rightMax: 4000, rightStep: 1000,
    L: {
      fy: 1305, fb: 1760, x0: 98.5, x1: 1008.8, yT: 1322, yB: 1661,
      legend: { x: 731, y: 1323, w: 145, h: 110, pos: [[750, 1337], [750, 1358], [750, 1378], [750, 1399], [750, 1419]] },
      titleBox: { x: 490, y: 1325, w: 114.5, h: 36 },
      cumBox: { x: 488, y: 1407, w: 122.6, h: 53, arrow: [551.8, 1460, 553, 1489] },
      concBox: { x: 186, y: 1380, w: 166, h: 27, arrow: [268, 1407, 281, 1500] },
      xTitleEnd: 1000,
    },
  },
];

function Panel({ p }: { p: any }) {
  const L = p.L;
  const x = d3.scaleLinear().domain([0, 14]).range([L.x0, L.x1]);
  const yl = d3.scaleLinear().domain([0, p.leftMax]).range([L.yB, L.yT]);
  const yr = d3.scaleLinear().domain([0, p.rightMax]).range([L.yB, L.yT]);
  const concLine = d3.line<[number, number]>().x(d => x(d[0])).y(d => yl(d[1]));
  const cumLine = d3.line<number>().x((d, i) => x(cumDist[i])).y(d => yr(d)).curve(d3.curveMonotoneX);
  const xTicks = d3.range(0, 15);
  const lTicks = d3.range(0, p.leftMax + 1, p.leftStep);
  const rTicks = d3.range(0, p.rightMax + 1, p.rightStep);
  const clipId = 'clip-' + p.key;
  const cy = (L.yT + L.yB) / 2;
  const fs = 20;
  return (
    <g>
      <rect x={7.5} y={L.fy} width={1200} height={L.fb - L.fy} fill="#fff" stroke="#000" strokeWidth={1.3} />
      <clipPath id={clipId}>
        <rect x={L.x0} y={L.yT} width={L.x1 - L.x0} height={L.yB - L.yT} />
      </clipPath>
      {xTicks.slice(1, 14).map(t => (
        <line key={'gx' + t} x1={x(t)} x2={x(t)} y1={L.yT} y2={L.yB} stroke="#C8C8C8" strokeWidth={1} />
      ))}
      {lTicks.slice(1).map(t => (
        <line key={'gy' + t} x1={L.x0} x2={L.x1} y1={yl(t)} y2={yl(t)} stroke="#C8C8C8" strokeWidth={1} />
      ))}
      <g clipPath={`url(#${clipId})`} fill="none">
        {p.conc.map((s: number[] | null, i: number) => s && (
          <path key={'c' + i} d={concLine(toPts(s)) || ''} stroke={COLORS[i]} strokeWidth={1.1} strokeLinejoin="round" />
        ))}
        {p.cum.map((s: number[] | null, i: number) => s && (
          <path key={'u' + i} d={cumLine(s) || ''} stroke={COLORS[i]} strokeWidth={1.6} />
        ))}
      </g>
      <line x1={L.x0} x2={L.x0} y1={L.yT} y2={L.yB} stroke="#000" strokeWidth={1.2} />
      <line x1={L.x1} x2={L.x1} y1={L.yT} y2={L.yB} stroke="#000" strokeWidth={1.2} />
      <line x1={L.x0} x2={L.x1} y1={L.yB} y2={L.yB} stroke="#000" strokeWidth={1.2} />
      {lTicks.map(t => (
        <g key={'lt' + t}>
          <line x1={L.x0 - 7} x2={L.x0} y1={yl(t)} y2={yl(t)} stroke="#000" strokeWidth={1.2} />
          <text x={L.x0 - 16.5} y={yl(t)} dy="0.35em" textAnchor="end" fontSize={fs} fontFamily={FONT}>{t}</text>
        </g>
      ))}
      {rTicks.map(t => (
        <g key={'rt' + t}>
          <line x1={L.x1} x2={L.x1 + 7} y1={yr(t)} y2={yr(t)} stroke="#000" strokeWidth={1.2} />
          <text x={L.x1 + 16.5} y={yr(t)} dy="0.35em" textAnchor="start" fontSize={fs} fontFamily={FONT}>{t}</text>
        </g>
      ))}
      {xTicks.map(t => (
        <g key={'xt' + t}>
          <line x1={x(t)} x2={x(t)} y1={L.yB} y2={L.yB + 7} stroke="#000" strokeWidth={1.2} />
          <text x={x(t)} y={L.yB + 37} textAnchor="middle" fontSize={fs} fontFamily={FONT}>{t}</text>
        </g>
      ))}
      <text x={L.xTitleEnd} y={L.yB + 57} textAnchor="end" fontSize={fs} fontWeight="bold" fontFamily={FONT}>Elapsed distance [km]</text>
      <text transform={`translate(35,${cy}) rotate(-90)`} textAnchor="middle" fontSize={fs} fontWeight="bold" fontFamily={FONT}>
        Particle length [km·m<tspan dy={-8} fontSize={13}>-3</tspan><tspan dy={8}>]</tspan>
      </text>
      <text transform={`translate(1093,${cy}) rotate(-90)`} textAnchor="middle" fontSize={fs} fontWeight="bold" fontFamily={FONT}>Cumulative production of</text>
      <text transform={`translate(1116,${cy}) rotate(-90)`} textAnchor="middle" fontSize={fs} fontWeight="bold" fontFamily={FONT}>particle length [km]</text>
      <rect x={L.legend.x} y={L.legend.y} width={L.legend.w} height={L.legend.h} fill="#fff" stroke="#000" strokeWidth={1.2} />
      {p.names.map((n: string, i: number) => {
        const [lx, ly] = L.legend.pos[i];
        return (
          <g key={'lg' + i}>
            <line x1={lx} x2={lx + 25} y1={ly} y2={ly} stroke={i === 0 && p.key === 'gas' ? '#404040' : COLORS[i]} strokeWidth={1.3} />
            <text x={lx + 31} y={ly} dy="0.35em" fontSize={19.5} fontWeight="bold" fontFamily={FONT}>{n}</text>
          </g>
        );
      })}
      <rect x={L.titleBox.x} y={L.titleBox.y} width={L.titleBox.w} height={L.titleBox.h} fill="#fff" stroke="#333" strokeWidth={1.3} />
      <text x={L.titleBox.x + L.titleBox.w / 2} y={L.titleBox.y + L.titleBox.h / 2} dy="0.36em" textAnchor="middle" fontSize={21.5} fontWeight="bold" fill={p.titleColor} fontFamily={FONT}>{p.title}</text>
      <line x1={L.cumBox.arrow[0]} y1={L.cumBox.arrow[1]} x2={L.cumBox.arrow[2]} y2={L.cumBox.arrow[3]} stroke="#000" strokeWidth={1.2} markerEnd="url(#arrowHead)" />
      <rect x={L.cumBox.x} y={L.cumBox.y} width={L.cumBox.w} height={L.cumBox.h} fill="#fff" stroke="#000" strokeWidth={1.2} />
      <text x={L.cumBox.x + L.cumBox.w / 2} y={L.cumBox.y + 21.5} textAnchor="middle" fontSize={fs} fontWeight="bold" fontFamily={FONT}>Cumulative</text>
      <text x={L.cumBox.x + L.cumBox.w / 2} y={L.cumBox.y + 46} textAnchor="middle" fontSize={fs} fontWeight="bold" fontFamily={FONT}>production</text>
      <line x1={L.concBox.arrow[0]} y1={L.concBox.arrow[1]} x2={L.concBox.arrow[2]} y2={L.concBox.arrow[3]} stroke="#000" strokeWidth={1.2} markerEnd="url(#arrowHead)" />
      <rect x={L.concBox.x} y={L.concBox.y} width={L.concBox.w} height={L.concBox.h} fill="#fff" stroke="#000" strokeWidth={1.2} />
      <text x={L.concBox.x + L.concBox.w / 2} y={L.concBox.y + L.concBox.h / 2} dy="0.36em" textAnchor="middle" fontSize={fs} fontWeight="bold" fontFamily={FONT}>Concentration</text>
    </g>
  );
}

export default function App() {
  return (
    <svg width={1117} height={1722} style={{ position: 'absolute', left: 0, top: 0, background: '#fff', overflow: 'hidden' }}>
      <defs>
        <marker id="arrowHead" viewBox="0 0 10 10" refX={9} refY={5} markerWidth={6} markerHeight={6} orient="auto" markerUnits="userSpaceOnUse">
          <path d="M0,1 L10,5 L0,9 z" fill="#000" />
        </marker>
      </defs>
      <rect x={0} y={0} width={1117} height={1722} fill="#fff" />
      {panels.map(p => <Panel key={p.key} p={p} />)}
    </svg>
  );
}
